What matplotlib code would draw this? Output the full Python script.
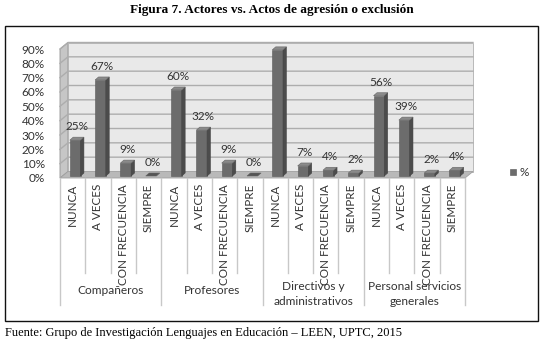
import numpy as np
import matplotlib.pyplot as plt
from matplotlib.patches import Polygon, Rectangle

grupos = ['Compañeros', 'Profesores', 'Directivos y\nadministrativos', 'Personal servicios\ngenerales']
respuestas = ['NUNCA', 'A VECES', 'CON FRECUENCIA', 'SIEMPRE']
companeros = [25, 67, 9, 0]
profesores = [60, 32, 9, 0]
directivos = [88, 7, 4, 2]
personal = [56, 39, 2, 4]
yticks = [0, 10, 20, 30, 40, 50, 60, 70, 80, 90]

valores = companeros + profesores + directivos + personal
n = len(valores)

W, H = 543, 344
fig = plt.figure(figsize=(W / 100, H / 100), dpi=100)

# plot area in pixels (front plane)
x0px, x1px = 60, 465
y0px, y1px = 178, 49
ax = fig.add_axes([x0px / W, 1 - y0px / H, (x1px - x0px) / W, (y0px - y1px) / H])
ax.set_xlim(0, n)
ax.set_ylim(0, 90)
ax.set_autoscale_on(False)
ppx = (x1px - x0px) / n
ppy = (y0px - y1px) / 90.0

def px(dx, dy):
    # pixel offsets -> data units
    return dx / ppx, dy / ppy

DX, DY = px(8, 6.5)

# outer frame
fig.patches.append(Rectangle((5 / W, 1 - 321 / H), 533 / W, 295 / H, transform=fig.transFigure,
                             fill=False, edgecolor='#111111', lw=1.0))

# side wall, back wall, floor
side = Polygon([(0, 0), (DX, DY), (DX, 90 + DY), (0, 90)], closed=True,
               facecolor='#c6c6c6', edgecolor='#909090', lw=0.6, clip_on=False, zorder=1)
back = Polygon([(DX, DY), (n + DX, DY), (n + DX, 90 + DY), (DX, 90 + DY)], closed=True,
               facecolor='#e9e9e9', edgecolor='#b0b0b0', lw=0.6, clip_on=False, zorder=1)
floor = Polygon([(0, 0), (n, 0), (n + DX, DY), (DX, DY)], closed=True,
                facecolor='#b9b9b9', edgecolor='#a0a0a0', lw=0.6, clip_on=False, zorder=2)
for p in (side, back, floor):
    ax.add_patch(p)
for v in yticks[1:]:
    ax.plot([0, DX, n + DX], [v, v + DY, v + DY], color='#adadad', lw=1.0, clip_on=False, zorder=1.5)

# bars
bx0, by0 = px(2.5, 2)
bdx, bdy = px(3.4, 3)
bw = 10.7 / ppx
for i, v in enumerate(valores):
    xl = i + 0.5 - bw / 2 + bx0
    xr = xl + bw
    yb = by0
    yt = v + by0
    front = Polygon([(xl, yb), (xr, yb), (xr, yt), (xl, yt)], closed=True,
                    facecolor='#6c6c6c', edgecolor='#5a5a5a', lw=0.4, clip_on=False, zorder=3)
    sidef = Polygon([(xr, yb), (xr + bdx, yb + bdy), (xr + bdx, yt + bdy), (xr, yt)], closed=True,
                    facecolor='#4c4c4c', edgecolor='#444444', lw=0.4, clip_on=False, zorder=3)
    top = Polygon([(xl, yt), (xr, yt), (xr + bdx, yt + bdy), (xl + bdx, yt + bdy)], closed=True,
                  facecolor='#8a8a8a' if v > 0 else '#555555', edgecolor='#666666', lw=0.4,
                  clip_on=False, zorder=3)
    if v > 0:
        ax.add_patch(front)
        ax.add_patch(sidef)
    ax.add_patch(top)
    ax.annotate(f'{v}%', ((xl + xr) / 2 + bdx / 2, yt + bdy), xytext=(0, 3.5),
                textcoords='offset points', ha='center', va='bottom',
                fontsize=8.5, color='#333333', family='Lato', zorder=4)

# y axis
ax.set_yticks(yticks)
ax.set_yticklabels([f'{v}%' for v in yticks], family='Lato', fontsize=8.5, color='#333333')
ax.tick_params(axis='y', length=0, pad=11)
ax.set_xticks([])
for s in ax.spines.values():
    s.set_visible(False)
ax.patch.set_visible(False)

# category table below the floor
def ypx(d):
    return -d / ppy

line_c = '#c8c8c8'
for i in range(n + 1):
    if i % 4 == 0:
        ax.plot([i, i], [0, ypx(127)], color=line_c, lw=1.0, clip_on=False)
    else:
        ax.plot([i, i], [0, ypx(95)], color=line_c, lw=1.0, clip_on=False)
for i in range(n):
    ax.text(i + 0.5, ypx(6), respuestas[i % 4], rotation=90, ha='center', va='top',
            fontsize=8.4, color='#333333', family='Lato', clip_on=False)
for g, nombre in enumerate(grupos):
    yy = ypx(112) if '\n' not in nombre else ypx(116)
    ax.text(g * 4 + 2, yy, nombre, ha='center', va='center', fontsize=8.6,
            color='#333333', family='Lato', linespacing=1.4, clip_on=False)

# legend
fig.patches.append(Rectangle((510 / W, 1 - 175 / H), 6 / W, 6 / H, transform=fig.transFigure,
                             facecolor='#6c6c6c', edgecolor='#555555', lw=0.4))
fig.text(520 / W, 1 - 172 / H, '%', ha='left', va='center', fontsize=8.5, color='#333333', family='Lato')

fig.text(0.5, 1 - 10 / H, 'Figura 7. Actores vs. Actos de agresión o exclusión', ha='center', va='center',
         fontsize=9.5, fontweight='bold', family='Liberation Serif')
fig.text(5 / W, 1 - 333 / H, 'Fuente: Grupo de Investigación Lenguajes en Educación – LEEN, UPTC, 2015',
         ha='left', va='center', fontsize=9, family='Liberation Serif')

fig.savefig('out.png', dpi=100)
